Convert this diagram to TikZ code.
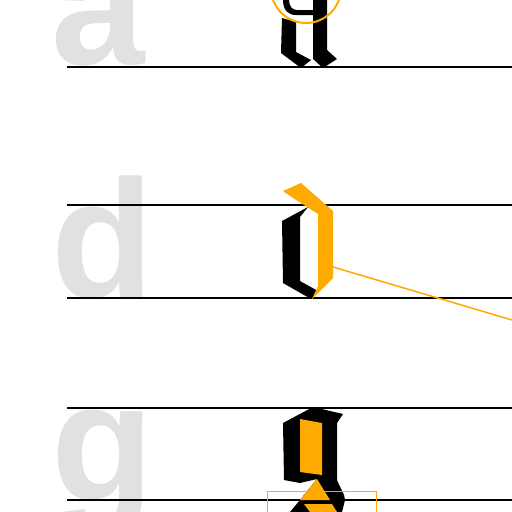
\documentclass[tikz,border=0pt]{standalone}
\usepackage{fontspec}
\setmainfont{Liberation Sans}
\definecolor{gold}{RGB}{255,170,0}
\definecolor{ghost}{RGB}{225,225,225}
\begin{document}
\begin{tikzpicture}[x=1pt,y=-1pt,
  rule/.style={line width=2pt,black},
  ghostletter/.style={anchor=base west,inner sep=0pt,text=ghost,font=\fontsize{168}{168}\selectfont\bfseries},
  ink/.style={fill=black},
  hl/.style={fill=gold}]
\useasboundingbox (0,0) rectangle (512,512);
% ghost letters
\node[ghostletter] (ga) at (51,64) {a};
\node[ghostletter] (gd) at (51,297) {d};
\node[ghostletter] (gg) at (51,500) {g};
% rules
\foreach \y/\n in {67/r1,205/r2,298/r3,408/r4,500/r5}{
  \coordinate (\n a) at (67,\y); \coordinate (\n b) at (512,\y);
  \draw[rule] (\n a) -- (\n b);
}
% letter a (blackletter)
\fill[ink] (283,0) .. controls (283,10) and (288,15) .. (296,15) -- (320,15) -- (320,10) -- (297,10) .. controls (292,10) and (289,6) .. (289,0) -- cycle;
\fill[ink] (282,18) -- (296,22) -- (296,52) -- (311,60) -- (301,68) -- (281,53) -- cycle;
\fill[ink] (313,0) -- (327,0) -- (327,50) -- (337,59) -- (323,68) -- (313,59) -- cycle;
\draw[gold,line width=2pt] (306,-12) circle[radius=35];
% letter d
\fill[ink] (282,221) -- (308,207) -- (300,217) -- (300,281) -- (318,291) -- (311,299) -- (283,283) -- cycle;
\fill[hl] (283,191) -- (301,183) -- (333,211) -- (333,278) -- (312,299) -- (318,286) -- (318,214) -- (293,198) -- cycle;
\coordinate (dl) at (333,267);
\coordinate (de) at (512,320);
\draw[gold,line width=1.5pt] (dl) -- (de);
% letter g
\fill[ink] (283,423) -- (313,407) -- (343,414) -- (337,423) -- (337,480) .. controls (340,488) and (345,494) .. (345,500) -- (342,512) -- (290,512) -- (300,500) -- (317,479) -- (300,483) -- (284,480) -- cycle;
\fill[hl] (300,419) -- (322,423) -- (322,475) -- (300,472) -- cycle;
\fill[hl] (317,479) -- (330,500) -- (300,500) -- cycle;
\fill[hl] (304,504) -- (332,504) -- (337,512) -- (310,512) -- cycle;
\draw[gold,line width=1pt] (267,491) rectangle (376,515);
\end{tikzpicture}
\end{document}
